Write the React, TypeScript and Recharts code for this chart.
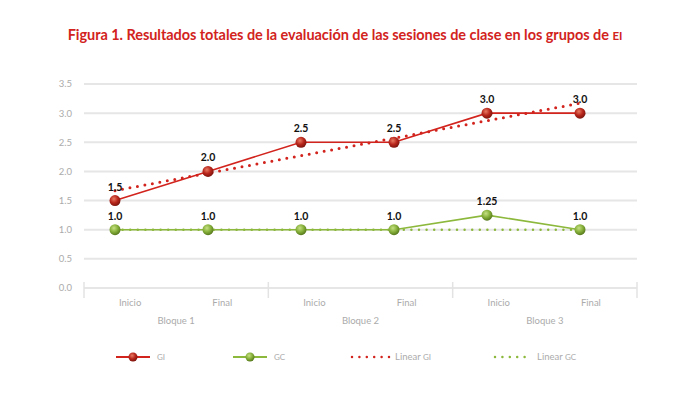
import React from "react";
import { LineChart, Line, XAxis, YAxis, CartesianGrid, LabelList } from "recharts";

const categories = ["Inicio", "Final", "Inicio", "Final", "Inicio", "Final"];
const blocks = ["Bloque 1", "Bloque 2", "Bloque 3"];
const yTicks = [0, 0.5, 1, 1.5, 2, 2.5, 3, 3.5];
const giValues = [1.5, 2.0, 2.5, 2.5, 3.0, 3.0];
const gcValues = [1.0, 1.0, 1.0, 1.0, 1.25, 1.0];
const linearGi = [1.67, 1.97, 2.27, 2.57, 2.87, 3.17];
const linearGc = [1.0, 1.0, 1.0, 1.0, 1.0, 1.0];

const data = categories.map((name, i) => ({
  id: String(i),
  name,
  gi: giValues[i],
  gc: gcValues[i],
  linGi: linearGi[i],
  linGc: linearGc[i],
}));

const W = 690;
const H = 394;
const PLOT_W = 553;
const RED = "#d2231d";
const GREEN = "#8cb83c";
const GREY = "#ababab";
const FONT = "Lato, 'Open Sans', sans-serif";

const fmt = (v: number) => (Number.isInteger(v * 2) ? v.toFixed(1) : String(v));

function CategoryTick(props: any) {
  const { x, y, index, payload } = props;
  const half = payload?.offset || PLOT_W / categories.length / 2;
  return (
    <g>
      <text x={x} y={y + 18} textAnchor="middle" fontSize={9.5} fill={GREY} fontFamily={FONT}>
        {categories[index]}
      </text>
      {index % 2 === 0 && (
        <>
          <line x1={x - half} x2={x - half} y1={y - 6} y2={y + 10} stroke="#e3e3e3" strokeWidth={1.5} />
          <text x={x + half} y={y + 36} textAnchor="middle" fontSize={9.5} fill={GREY} fontFamily={FONT}>
            {blocks[index / 2]}
          </text>
        </>
      )}
      {index === categories.length - 1 && (
        <line x1={x + half} x2={x + half} y1={y - 6} y2={y + 10} stroke="#e3e3e3" strokeWidth={1.5} />
      )}
    </g>
  );
}

function sphere(grad: string, prefix: string) {
  return (p: any) => (
    <circle key={`${prefix}-${p.index}`} cx={p.cx} cy={p.cy} r={5.5} fill={`url(#${grad})`} />
  );
}

function Legend() {
  const txt = { fontSize: 9.5, fill: GREY, fontFamily: FONT } as const;
  return (
    <svg width={W} height={30} style={{ position: "absolute", left: 0, top: 342 }}>
      <line x1={116} x2={150} y1={15} y2={15} stroke={RED} strokeWidth={2} />
      <circle cx={133} cy={15} r={4.5} fill="url(#lgRed)" />
      <text x={157} y={18} {...txt} fontSize={8}>GI</text>

      <line x1={233} x2={267} y1={15} y2={15} stroke={GREEN} strokeWidth={2} />
      <circle cx={250} cy={15} r={4.5} fill="url(#lgGreen)" />
      <text x={274} y={18} {...txt} fontSize={8}>GC</text>

      <line x1={352} x2={390} y1={15} y2={15} stroke={RED} strokeWidth={2.5} strokeDasharray="0 7.4" strokeLinecap="round" />
      <text x={395} y={18} {...txt}>
        Linear <tspan fontSize={8}>GI</tspan>
      </text>

      <line x1={495} x2={532} y1={15} y2={15} stroke={GREEN} strokeWidth={2.5} strokeDasharray="0 7.4" strokeLinecap="round" />
      <text x={537} y={18} {...txt}>
        Linear <tspan fontSize={8}>GC</tspan>
      </text>
      <defs>
        <radialGradient id="lgRed" cx="40%" cy="35%" r="65%">
          <stop offset="0%" stopColor="#e87a62" />
          <stop offset="55%" stopColor="#b8261c" />
          <stop offset="100%" stopColor="#7e150e" />
        </radialGradient>
        <radialGradient id="lgGreen" cx="40%" cy="35%" r="65%">
          <stop offset="0%" stopColor="#c6e084" />
          <stop offset="55%" stopColor="#86b03a" />
          <stop offset="100%" stopColor="#587a1e" />
        </radialGradient>
      </defs>
    </svg>
  );
}

export default function App() {
  return (
    <div style={{ position: "absolute", left: 0, top: 0, width: W, height: H, background: "#fff", overflow: "hidden" }}>
      <div
        style={{
          position: "absolute",
          top: 26,
          left: 0,
          width: W,
          textAlign: "center",
          color: RED,
          fontFamily: FONT,
          fontWeight: 700,
          fontSize: 14.5,
          letterSpacing: -0.05,
        }}
      >
        Figura 1. Resultados totales de la evaluación de las sesiones de clase en los grupos de{" "}
        <span style={{ fontSize: 11.5 }}>EI</span>
      </div>
      <LineChart width={W} height={H} data={data} margin={{ top: 84, right: 53, left: 0, bottom: 66 }}>
        <defs>
          <radialGradient id="redBall" cx="40%" cy="35%" r="65%">
            <stop offset="0%" stopColor="#e87a62" />
            <stop offset="55%" stopColor="#b8261c" />
            <stop offset="100%" stopColor="#7e150e" />
          </radialGradient>
          <radialGradient id="greenBall" cx="40%" cy="35%" r="65%">
            <stop offset="0%" stopColor="#c6e084" />
            <stop offset="55%" stopColor="#86b03a" />
            <stop offset="100%" stopColor="#587a1e" />
          </radialGradient>
        </defs>
        <CartesianGrid vertical={false} stroke="#e6e6e6" strokeWidth={2} />
        <XAxis xAxisId="pts" dataKey="id" hide padding={{ left: 31, right: 57 }} />
        <XAxis
          xAxisId="lbl"
          dataKey="id"
          scale="band"
          height={40}
          interval={0}
          tickLine={false}
          axisLine={false}
          tickSize={0}
          tickMargin={0}
          tick={<CategoryTick />}
        />
        <YAxis
          domain={[0, 3.5]}
          ticks={yTicks}
          width={84}
          axisLine={false}
          tickLine={false}
          tickSize={0}
          tickMargin={12}
          tickFormatter={(v: number) => v.toFixed(1)}
          tick={{ fontSize: 9.5, fill: GREY, fontFamily: FONT }}
        />
        <Line
          xAxisId="pts"
          dataKey="linGi"
          stroke={RED}
          strokeWidth={3}
          strokeDasharray="0 7.6"
          strokeLinecap="round"
          dot={false}
          activeDot={false}
          isAnimationActive={false}
        />
        <Line
          xAxisId="pts"
          dataKey="linGc"
          stroke={GREEN}
          strokeWidth={2.5}
          strokeDasharray="0 7.6"
          strokeLinecap="round"
          dot={false}
          activeDot={false}
          isAnimationActive={false}
        />
        <Line
          xAxisId="pts"
          dataKey="gc"
          stroke={GREEN}
          strokeWidth={1.6}
          dot={sphere("greenBall", "gc")}
          activeDot={false}
          isAnimationActive={false}
        >
          <LabelList
            dataKey="gc"
            position="top"
            offset={10}
            formatter={(v: any) => fmt(Number(v))}
            style={{ fontSize: 10.5, fontWeight: 700, fill: "#111", fontFamily: FONT }}
          />
        </Line>
        <Line
          xAxisId="pts"
          dataKey="gi"
          stroke={RED}
          strokeWidth={1.6}
          dot={sphere("redBall", "gi")}
          activeDot={false}
          isAnimationActive={false}
        >
          <LabelList
            dataKey="gi"
            position="top"
            offset={10}
            formatter={(v: any) => fmt(Number(v))}
            style={{ fontSize: 10.5, fontWeight: 700, fill: "#111", fontFamily: FONT }}
          />
        </Line>
      </LineChart>
      <Legend />
    </div>
  );
}
